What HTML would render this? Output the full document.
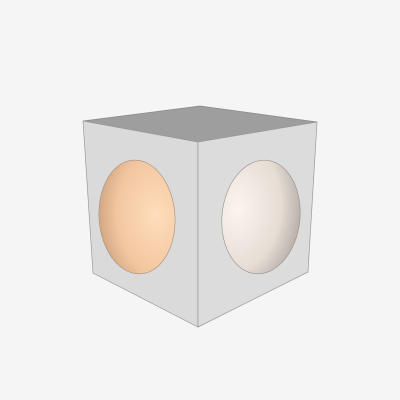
<!DOCTYPE html>
<html><head><meta charset="utf-8"><style>html,body{margin:0;padding:0;background:#f5f5f5;}svg{display:block}</style></head>
<body>
<svg width="400" height="400" viewBox="0 0 400 400">
<defs>
<radialGradient id="gL" cx="0.75" cy="0.5" r="0.85">
<stop offset="0" stop-color="#ffddbb"/><stop offset="0.6" stop-color="#f2c7a0"/><stop offset="1" stop-color="#c49a78"/>
</radialGradient>
<radialGradient id="gR" cx="0.2" cy="0.45" r="0.9">
<stop offset="0" stop-color="#fbf5ee"/><stop offset="0.6" stop-color="#e6ddd5"/><stop offset="1" stop-color="#a8a09a"/>
</radialGradient>
</defs>
<rect width="400" height="400" fill="#f5f5f5"/>
<polygon points="83,121 200,106 317,122 198,142" fill="#9e9e9e" stroke="#8a8a8a" stroke-width="0.7"/>
<polygon points="83,121 198,142 198,327 93,273" fill="#dadada" stroke="#9a9a9a" stroke-width="0.7"/>
<polygon points="198,142 317,122 308,272 198,327" fill="#dcdcdc" stroke="#9a9a9a" stroke-width="0.7"/>
<ellipse cx="137" cy="217" rx="38" ry="57" transform="rotate(-4 137 217)" fill="url(#gL)" stroke="#a89080" stroke-width="0.6"/>
<ellipse cx="261" cy="217" rx="39" ry="57" transform="rotate(6 261 217)" fill="url(#gR)" stroke="#9a928c" stroke-width="0.6"/>
</svg>
</body></html>
